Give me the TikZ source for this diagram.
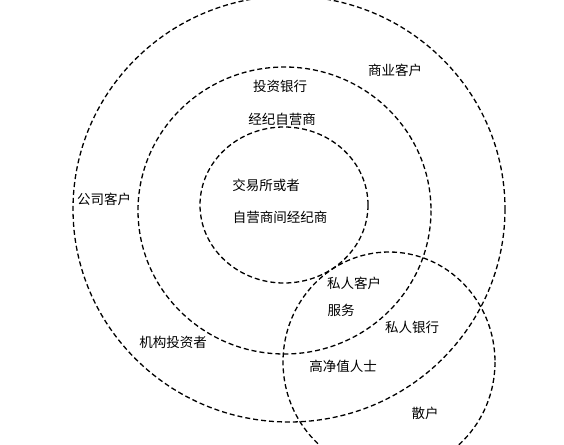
\documentclass[tikz,border=0pt]{standalone}
\usepackage{fontspec}
\newfontfamily\cjk{Noto Sans CJK SC}
\tikzset{
  ring/.style={draw=black, line width=1.3pt, dash pattern=on 5pt off 3pt},
  lbl/.style={font=\cjk\fontsize{13.5}{15}\selectfont, inner sep=0pt, text=black}
}
\begin{document}
\begin{tikzpicture}[x=1pt,y=-1pt]
\useasboundingbox (0,0) rectangle (564,444);
\fill[white] (0,0) rectangle (564,444);
% rings
\draw[ring] (289,209) ellipse [x radius=216, y radius=213];
\draw[ring] (284.5,210.5) ellipse [x radius=146.5, y radius=143.5];
\draw[ring] (284,205) ellipse [x radius=84, y radius=78];
\draw[ring] (389,362) ellipse [x radius=106, y radius=110];
% labels
\node[lbl] (syk) at (395,70) {商业客户};
\node[lbl] (tzyh) at (280,86) {投资银行};
\node[lbl] (jjzy) at (282,119) {经纪自营商};
\node[lbl] (jys) at (266,185) {交易所或者};
\node[lbl] (zys) at (280,217) {自营商间经纪商};
\node[lbl] (gskh) at (104,199) {公司客户};
\node[lbl] (jgtz) at (173,342) {机构投资者};
\node[lbl] (srkh) at (354,283) {私人客户};
\node[lbl] (fw) at (341,310) {服务};
\node[lbl] (sryh) at (412,327) {私人银行};
\node[lbl] (gjz) at (343,366) {高净值人士};
\node[lbl] (sh) at (425,413) {散户};
\end{tikzpicture}
\end{document}
